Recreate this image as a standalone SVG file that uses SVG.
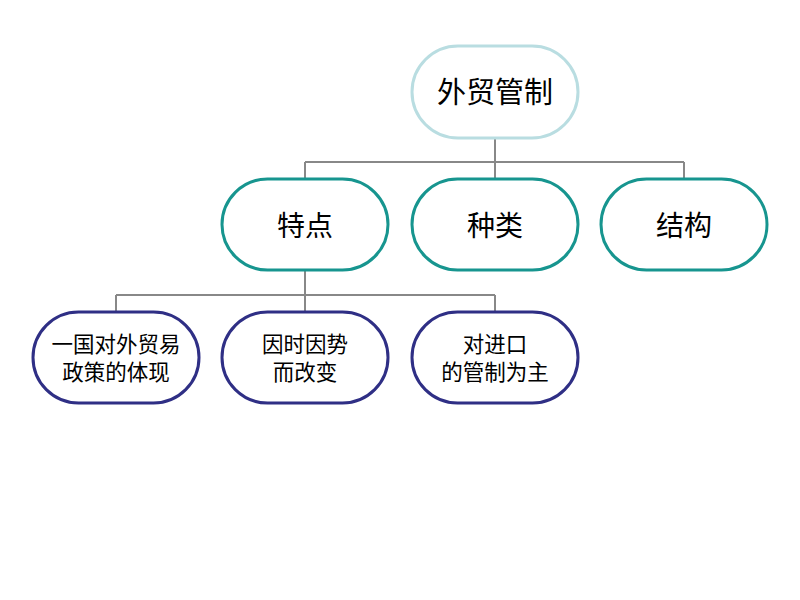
<svg xmlns="http://www.w3.org/2000/svg" width="800" height="600" viewBox="0 0 800 600">
<style>
.n rect{fill:#fff;stroke-width:3}
.r rect{stroke:#b9dde1}
.t rect{stroke:#17958f}
.b rect{stroke:#2f2f85}
text{font-family:"Noto Sans CJK SC","Noto Sans",sans-serif;fill:#000;text-anchor:middle}
.r text{font-size:29px}
.t text{font-size:28px}
.b text{font-size:21.5px}
#connectors path{fill:none;stroke:#888;stroke-width:2}
</style>
<rect width="800" height="600" fill="#fff"/>
<g id="connectors">
<path d="M495 138V162M305 162H684M305 162V179M495 162V179M684 162V179"/>
<path d="M305 270V295M116 295H495M116 295V312M305 295V312M495 295V312"/>
</g>
<g id="root" class="n r"><rect x="412" y="46" width="166" height="92" rx="46"/><text x="495" y="103">外贸管制</text></g>
<g id="tedian" class="n t"><rect x="222" y="179" width="166" height="91" rx="45.5"/><text x="305" y="236">特点</text></g>
<g id="zhonglei" class="n t"><rect x="412" y="179" width="166" height="91" rx="45.5"/><text x="495" y="236">种类</text></g>
<g id="jiegou" class="n t"><rect x="601" y="179" width="166" height="91" rx="45.5"/><text x="684" y="236">结构</text></g>
<g id="n1" class="n b"><rect x="33" y="312" width="166" height="91" rx="45.5"/><text x="116" y="352">一国对外贸易</text><text x="116" y="380">政策的体现</text></g>
<g id="n2" class="n b"><rect x="222" y="312" width="166" height="91" rx="45.5"/><text x="305" y="352">因时因势</text><text x="305" y="380">而改变</text></g>
<g id="n3" class="n b"><rect x="412" y="312" width="166" height="91" rx="45.5"/><text x="495" y="352">对进口</text><text x="495" y="380">的管制为主</text></g>
</svg>
